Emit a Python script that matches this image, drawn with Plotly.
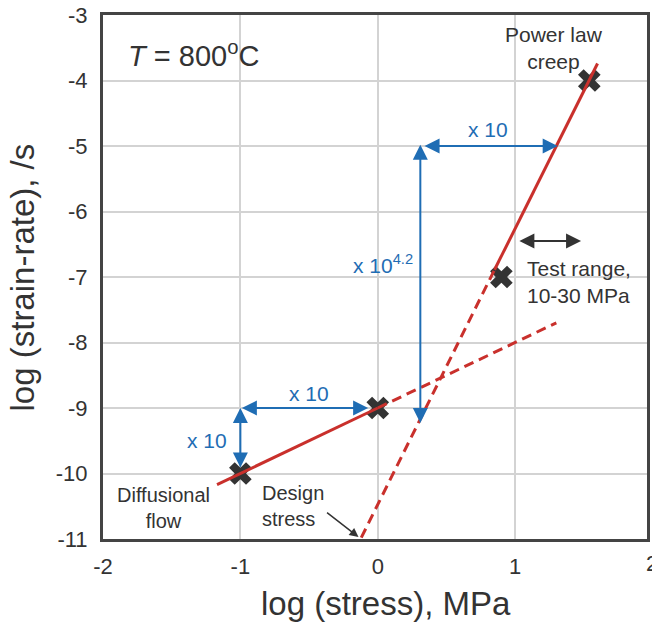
import plotly.graph_objects as go

# ---- data (log stress in MPa, log strain-rate in /s) ----
x_ticks = [-2, -1, 0, 1]
y_ticks = [-11, -10, -9, -8, -7, -6, -5, -4, -3]

point_x = [-1.0, 0.0, 0.9, 1.54]
point_y = [-10.0, -9.0, -7.0, -4.0]

diff_solid_x = [-1.17, 0.0]
diff_solid_y = [-10.17, -9.0]
diff_dash_x = [0.0, 1.3]
diff_dash_y = [-9.0, -7.7]

plc_dash_x = [-0.12, 0.85]
plc_dash_y = [-10.98, -6.89]
plc_solid_x = [0.85, 1.6]
plc_solid_y = [-6.89, -3.74]

RED = "#c9302c"
BLUE = "#1f6db4"
DARK = "#333333"
FONT = "Liberation Sans, Arial, sans-serif"

fig = go.Figure()

fig.add_trace(go.Scatter(x=point_x, y=point_y, mode="markers",
                         marker=dict(symbol="x", size=20, color=DARK, line=dict(width=0)),
                         showlegend=False, hoverinfo="skip"))
fig.add_trace(go.Scatter(x=diff_solid_x, y=diff_solid_y, mode="lines",
                         line=dict(color=RED, width=3), showlegend=False))
fig.add_trace(go.Scatter(x=diff_dash_x, y=diff_dash_y, mode="lines",
                         line=dict(color=RED, width=3, dash="10px,6px"), showlegend=False))
fig.add_trace(go.Scatter(x=plc_dash_x, y=plc_dash_y, mode="lines",
                         line=dict(color=RED, width=3, dash="10px,6px"), showlegend=False))
fig.add_trace(go.Scatter(x=plc_solid_x, y=plc_solid_y, mode="lines",
                         line=dict(color=RED, width=3), showlegend=False))

ann = []

def darrow(x0, y0, x1, y1, color, size=1.5):
    ann.append(dict(x=x1, y=y1, ax=x0, ay=y0, xref="x", yref="y", axref="x", ayref="y",
                    text="", showarrow=True, arrowhead=2, arrowside="end+start",
                    arrowsize=size, arrowwidth=2, arrowcolor=color, standoff=0, startstandoff=0))

# blue double arrows
darrow(-1.0, -9.93, -1.0, -9.0, BLUE)
darrow(-1.0, -9.0, -0.07, -9.0, BLUE)
darrow(0.31, -9.25, 0.31, -4.98, BLUE)
darrow(0.33, -5.0, 1.31, -5.0, BLUE)
# test range arrow
darrow(1.02, -6.45, 1.48, -6.45, DARK)

def txt(x, y, s, color=DARK, size=21, xanchor="center", align="center"):
    ann.append(dict(x=x, y=y, xref="x", yref="y", text=s, showarrow=False,
                    font=dict(family=FONT, size=size, color=color),
                    xanchor=xanchor, yanchor="middle", align=align))

txt(-1.08, -9.5, "x 10", BLUE, xanchor="right")
txt(-0.5, -8.78, "x 10", BLUE)
txt(0.8, -4.75, "x 10", BLUE)
txt(0.27, -6.8, "x 10<sup>4.2</sup>", BLUE, xanchor="right")
txt(1.28, -3.5, "Power law<br>creep")
txt(1.07, -7.08, "Test range,<br>10-30 MPa", xanchor="left", align="left")
txt(-1.56, -10.52, "Diffusional<br>flow", size=20)
txt(-0.86, -10.5, "Design<br>stress", size=20, xanchor="left", align="left")
txt(-1.83, -3.59, "<i>T</i> = 800<sup>o</sup>C", size=29, xanchor="left")

# design stress arrow
ann.append(dict(x=-0.14, y=-10.97, ax=-0.38, ay=-10.58, xref="x", yref="y",
                axref="x", ayref="y", text="", showarrow=True, arrowhead=2,
                arrowsize=1.2, arrowwidth=1.5, arrowcolor=DARK, standoff=0))

# axis titles and clipped "2" tick label
ann.append(dict(x=0.521, y=-0.124, xref="paper", yref="paper", text="log (stress), MPa",
                showarrow=False, font=dict(family=FONT, size=33, color=DARK),
                xanchor="center", yanchor="middle"))
ann.append(dict(x=-0.148, y=0.5, xref="paper", yref="paper", text="log (strain-rate), /s",
                showarrow=False, textangle=-90, font=dict(family=FONT, size=33, color=DARK),
                xanchor="center", yanchor="middle"))
ann.append(dict(x=1.0101, y=-0.047, xref="paper", yref="paper", text="2",
                showarrow=False, font=dict(family=FONT, size=22, color=DARK),
                xanchor="center", yanchor="middle"))

fig.update_layout(
    width=652, height=628, autosize=False,
    margin=dict(l=103, r=2, t=15, b=89),
    paper_bgcolor="white", plot_bgcolor="white",
    annotations=ann,
    showlegend=False,
)
fig.update_xaxes(range=[-2, 1.96], tickvals=x_ticks, ticktext=[str(v) for v in x_ticks],
                 showgrid=True, gridcolor="#d3d3d3", gridwidth=1.5, zeroline=False,
                 showline=True, linecolor="#444444", linewidth=3, mirror=True,
                 ticks="outside", ticklen=6, tickcolor="rgba(0,0,0,0)",
                 tickfont=dict(family=FONT, size=22, color=DARK))
fig.update_yaxes(range=[-11, -3], tickvals=y_ticks, ticktext=[str(v) for v in y_ticks],
                 showgrid=True, gridcolor="#d3d3d3", gridwidth=1.5, zeroline=False,
                 showline=True, linecolor="#444444", linewidth=3, mirror=True,
                 ticks="outside", ticklen=8, tickcolor="rgba(0,0,0,0)",
                 tickfont=dict(family=FONT, size=22, color=DARK))

# remove the browser's default 8px body margin so the figure fills the window
fig.write_html("out.html",
               config={"displayModeBar": False},
               post_script="document.body.style.margin='0';document.body.style.overflow='hidden';")
